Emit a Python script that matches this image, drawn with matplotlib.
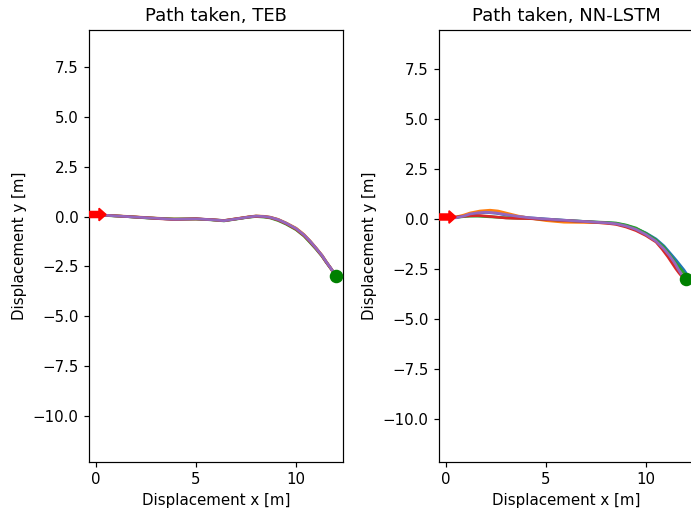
import matplotlib
matplotlib.use("Agg")
import matplotlib.pyplot as plt

# ---- data ----
start_xy = (0.0, 0.1)
goal_xy = (12.0, -3.0)
x_ticks = [0, 5, 10]

# TEB runs
teb_x1 = [0.0, 0.5, 1.5, 2.5, 3.2, 3.9, 5.0, 5.8, 6.4, 7.2, 7.6, 8.0, 8.4, 8.7, 9.1, 9.5, 10.0, 10.4, 10.7, 11.0, 11.3, 11.5, 11.75, 11.95, 12.0]
teb_y1 = [0.1, 0.06, 0.0, -0.06, -0.1, -0.13, -0.12, -0.16, -0.2, -0.09, -0.03, 0.02, 0.0, -0.04, -0.15, -0.33, -0.6, -0.92, -1.23, -1.58, -1.95, -2.25, -2.6, -2.9, -3.0]
teb_x2 = teb_x1
teb_y2 = [0.1, 0.06, 0.01, -0.05, -0.09, -0.12, -0.13, -0.16, -0.2, -0.08, -0.02, 0.03, 0.01, -0.03, -0.14, -0.32, -0.58, -0.9, -1.22, -1.57, -1.94, -2.24, -2.6, -2.9, -3.0]
teb_x3 = teb_x1
teb_y3 = [0.1, 0.05, 0.0, -0.07, -0.1, -0.13, -0.12, -0.17, -0.22, -0.1, -0.04, 0.0, -0.03, -0.07, -0.2, -0.38, -0.66, -0.98, -1.3, -1.63, -1.99, -2.28, -2.62, -2.92, -3.0]
teb_x4 = teb_x1
teb_y4 = [0.1, 0.06, 0.0, -0.06, -0.11, -0.15, -0.11, -0.16, -0.21, -0.09, -0.03, 0.01, -0.01, -0.05, -0.17, -0.35, -0.63, -0.95, -1.26, -1.6, -1.97, -2.27, -2.61, -2.92, -3.0]
teb_x5 = teb_x1
teb_y5 = [0.1, 0.06, 0.0, -0.06, -0.1, -0.14, -0.12, -0.16, -0.21, -0.09, -0.03, 0.02, 0.0, -0.04, -0.15, -0.33, -0.6, -0.92, -1.23, -1.58, -1.95, -2.25, -2.6, -2.9, -3.0]

# NN-LSTM runs
nn_x1 = [0.0, 0.5, 0.9, 1.2, 1.6, 2.0, 2.5, 3.0, 3.6, 4.2, 5.0, 5.9, 6.7, 7.5, 8.0, 8.5, 9.0, 9.5, 10.0, 10.5, 10.9, 11.2, 11.5, 11.7, 11.9, 12.0, 12.05]
nn_y1 = [0.1, 0.08, 0.15, 0.22, 0.29, 0.33, 0.29, 0.2, 0.12, 0.06, 0.0, -0.06, -0.11, -0.16, -0.18, -0.22, -0.32, -0.48, -0.7, -1.0, -1.35, -1.7, -2.05, -2.3, -2.55, -2.7, -2.9]
nn_x2 = [0.0, 0.5, 0.9, 1.2, 1.7, 2.2, 2.6, 3.0, 3.6, 4.2, 5.0, 5.9, 6.7, 7.5, 8.0, 8.5, 9.0, 9.5, 10.0, 10.5, 10.9, 11.2, 11.45, 11.6, 11.75, 11.85, 12.0]
nn_y2 = [0.1, 0.1, 0.2, 0.3, 0.4, 0.44, 0.4, 0.3, 0.15, 0.04, -0.08, -0.16, -0.17, -0.18, -0.2, -0.24, -0.34, -0.52, -0.78, -1.1, -1.5, -1.85, -2.2, -2.5, -2.72, -2.9, -3.0]
nn_x3 = nn_x1
nn_y3 = [0.1, 0.08, 0.12, 0.14, 0.14, 0.12, 0.09, 0.06, 0.04, 0.03, -0.02, -0.07, -0.11, -0.15, -0.17, -0.2, -0.3, -0.45, -0.72, -1.05, -1.42, -1.8, -2.2, -2.45, -2.7, -2.85, -3.0]
nn_x4 = [0.0, 0.5, 0.9, 1.2, 1.5, 1.7, 2.3, 3.0, 3.6, 4.2, 5.0, 5.9, 6.7, 7.5, 8.0, 8.5, 9.0, 9.5, 10.0, 10.5, 10.8, 11.1, 11.3, 11.5, 11.65, 11.8, 12.0]
nn_y4 = [0.1, 0.1, 0.14, 0.16, 0.17, 0.17, 0.12, 0.05, 0.03, 0.02, -0.03, -0.08, -0.12, -0.17, -0.21, -0.27, -0.4, -0.58, -0.83, -1.15, -1.5, -1.9, -2.2, -2.5, -2.7, -2.88, -3.0]
nn_x5 = [0.0, 0.5, 0.9, 1.2, 1.6, 2.0, 2.5, 3.0, 3.6, 4.2, 5.0, 5.9, 6.7, 7.5, 8.0, 8.5, 9.0, 9.5, 10.0, 10.5, 10.9, 11.2, 11.45, 11.62, 11.78, 11.9, 12.0]
nn_y5 = [0.1, 0.06, 0.15, 0.25, 0.31, 0.34, 0.3, 0.22, 0.13, 0.06, 0.0, -0.06, -0.11, -0.16, -0.19, -0.24, -0.35, -0.52, -0.78, -1.11, -1.5, -1.86, -2.22, -2.52, -2.78, -2.95, -3.0]

titles = ["Path taken, TEB", "Path taken, NN-LSTM"]
runs = [
    [(teb_x1, teb_y1), (teb_x2, teb_y2), (teb_x3, teb_y3), (teb_x4, teb_y4), (teb_x5, teb_y5)],
    [(nn_x1, nn_y1), (nn_x2, nn_y2), (nn_x3, nn_y3), (nn_x4, nn_y4), (nn_x5, nn_y5)],
]
ylims = [(-12.28, 9.33), (-12.15, 9.45)]

W, H = 691, 518
DPI = 108
fig = plt.figure(figsize=(W / DPI, H / DPI), dpi=DPI)
lefts = [89, 439]
for i in range(2):
    ax = fig.add_axes([lefts[i] / W, (H - 462) / H, 254 / W, 432 / H])
    for (xs, ys) in runs[i]:
        ax.plot(xs, ys, lw=1.8)
    ax.arrow(start_xy[0] - 0.5, start_xy[1], 1.0, 0, width=0.3, head_width=0.62,
             head_length=0.35, length_includes_head=True, color='red', zorder=5)
    ax.plot(goal_xy[0], goal_xy[1], 'o', color='green', ms=8, zorder=6)
    ax.set_xlim(-0.35, 12.35)
    ax.set_ylim(*ylims[i])
    ax.set_xticks(x_ticks)
    ax.set_title(titles[i], fontsize=12)
    ax.set_xlabel("Displacement x [m]")
    ax.set_ylabel("Displacement y [m]")

fig.savefig("out.png", dpi=DPI)
